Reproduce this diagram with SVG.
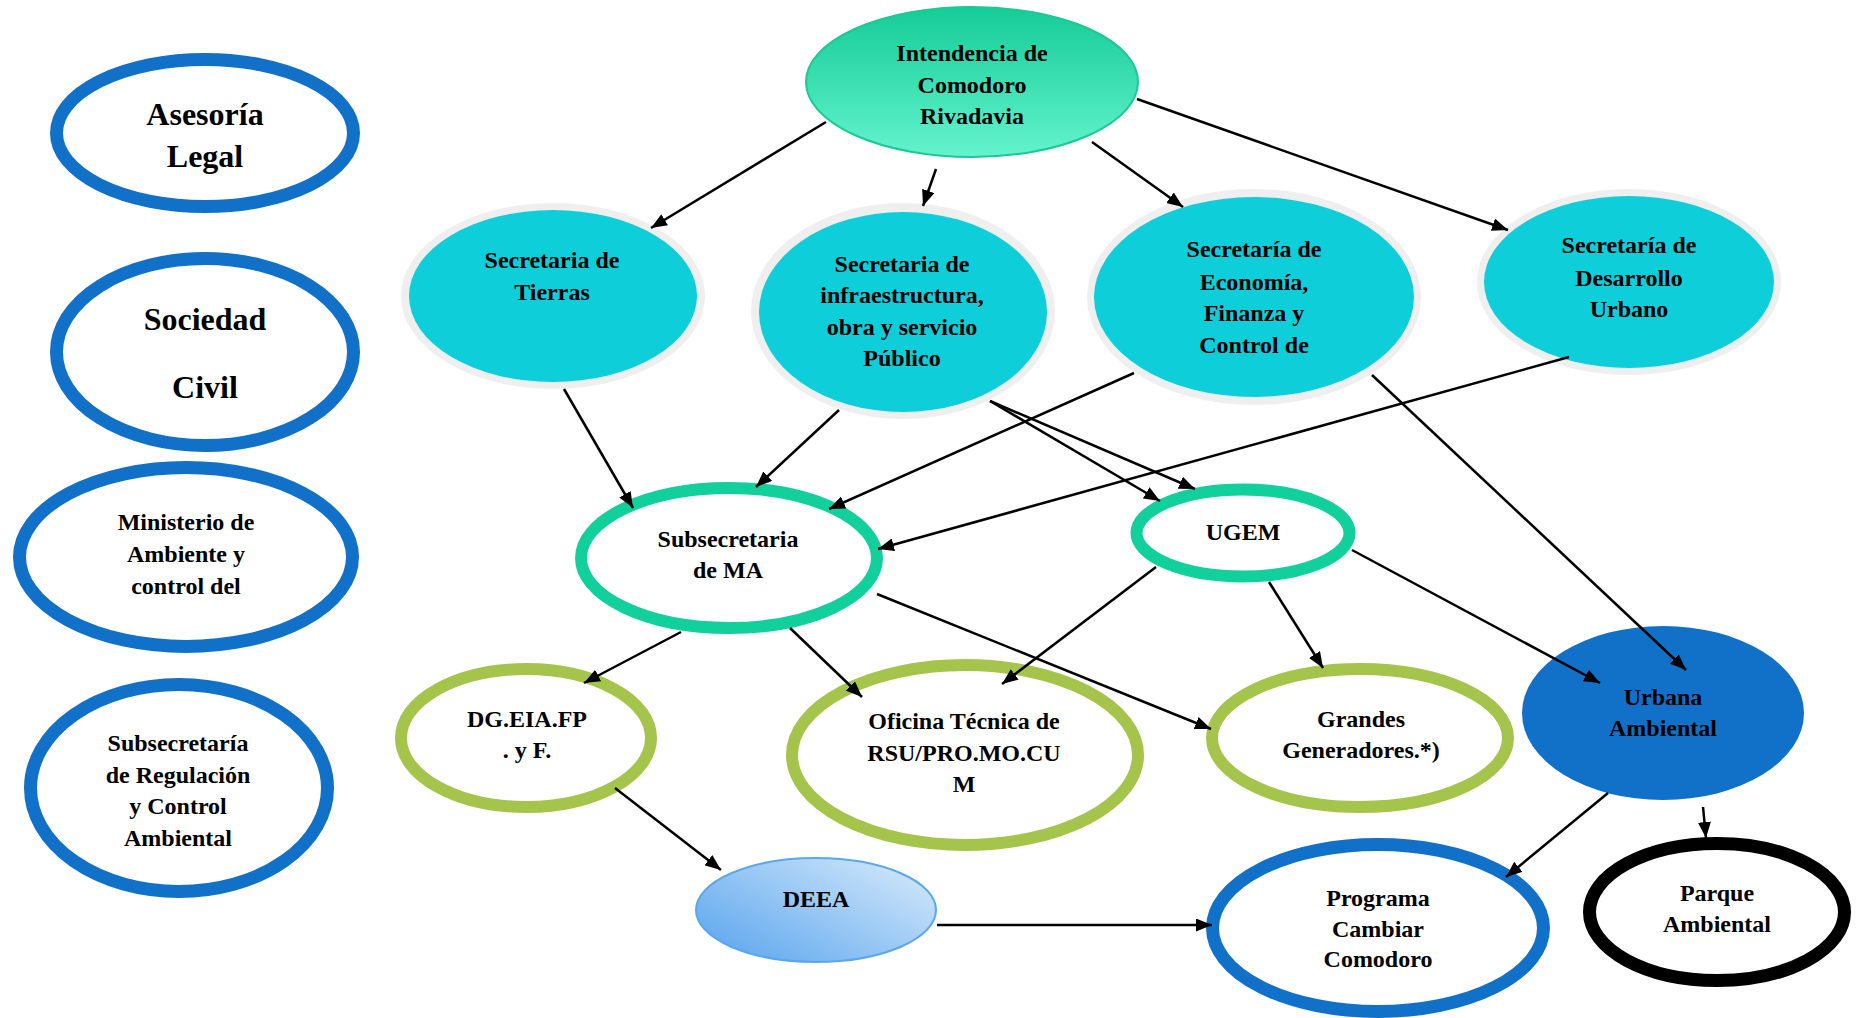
<svg xmlns="http://www.w3.org/2000/svg" width="1859" height="1018" viewBox="0 0 1859 1018">
<style>
text{font-family:"Liberation Serif","Times New Roman",serif;font-weight:bold;fill:#000;text-anchor:middle;font-size:24px}
.big{font-size:32px}
.ring-blue{fill:#fff;stroke:#1170C8;stroke-width:13}
.ring-green{fill:#fff;stroke:#12D09C;stroke-width:12}
.ring-olive{fill:#fff;stroke:#A5C44B;stroke-width:12}
.ring-black{fill:#fff;stroke:#000;stroke-width:13}
.halo{fill:#EFEFEF}
.cyan{fill:#0ECFD9}
.conn line{stroke:#000;stroke-width:2.5;marker-end:url(#arr)}
</style>
<defs>
<marker id="arr" markerUnits="userSpaceOnUse" markerWidth="16" markerHeight="13" refX="16" refY="6.5" orient="auto">
<path d="M0,0 L16,6.5 L0,13 z" fill="#000"/>
</marker>
<linearGradient id="gInt" x1="0" y1="0" x2="0" y2="1">
<stop offset="0" stop-color="#15CC97"/>
<stop offset="1" stop-color="#64F3CE"/>
</linearGradient>
<linearGradient id="gDeea" x1="0" y1="1" x2="1" y2="0.2">
<stop offset="0" stop-color="#55A2ED"/>
<stop offset="1" stop-color="#CFE6FA"/>
</linearGradient>
</defs>
<rect width="1859" height="1018" fill="#fff"/>

<g id="asesoria">
<ellipse class="ring-blue" cx="205" cy="133" rx="148.5" ry="73.5"/>
<text class="big" x="205" y="125">Asesoría</text>
<text class="big" x="205" y="167">Legal</text>
</g>
<g id="sociedad">
<ellipse class="ring-blue" cx="205" cy="352" rx="148.5" ry="93.5"/>
<text class="big" x="205" y="330">Sociedad</text>
<text class="big" x="205" y="398">Civil</text>
</g>
<g id="ministerio">
<ellipse class="ring-blue" cx="186" cy="557" rx="166.5" ry="89.5"/>
<text x="186" y="530">Ministerio de</text>
<text x="186" y="562">Ambiente y</text>
<text x="186" y="594">control del</text>
</g>
<g id="subsec-regulacion">
<ellipse class="ring-blue" cx="179" cy="788" rx="148.5" ry="103.5"/>
<text x="178" y="751">Subsecretaría</text>
<text x="178" y="783">de Regulación</text>
<text x="178" y="814">y Control</text>
<text x="178" y="846">Ambiental</text>
</g>

<g id="intendencia">
<ellipse cx="972" cy="82" rx="166" ry="75" fill="url(#gInt)" stroke="#1BC994" stroke-width="2"/>
<text x="972" y="61">Intendencia de</text>
<text x="972" y="93">Comodoro</text>
<text x="972" y="124">Rivadavia</text>
</g>

<g id="tierras">
<ellipse class="halo" cx="553" cy="296" rx="152" ry="93"/>
<ellipse class="cyan" cx="553" cy="296" rx="144" ry="86"/>
<text x="552" y="268">Secretaria de</text>
<text x="552" y="300">Tierras</text>
</g>
<g id="infraestructura">
<ellipse class="halo" cx="903" cy="311" rx="152" ry="108"/>
<ellipse class="cyan" cx="903" cy="312" rx="144" ry="100"/>
<text x="902" y="272">Secretaria de</text>
<text x="902" y="303">infraestructura,</text>
<text x="902" y="335">obra y servicio</text>
<text x="902" y="366">Público</text>
</g>
<g id="economia">
<ellipse class="halo" cx="1254" cy="297" rx="167" ry="108"/>
<ellipse class="cyan" cx="1254" cy="297" rx="160" ry="100"/>
<text x="1254" y="257">Secretaría de</text>
<text x="1254" y="290">Economía,</text>
<text x="1254" y="321">Finanza y</text>
<text x="1254" y="353">Control de</text>
</g>
<g id="desarrollo">
<ellipse class="halo" cx="1629" cy="282" rx="152" ry="93"/>
<ellipse class="cyan" cx="1629" cy="282" rx="145" ry="86"/>
<text x="1629" y="253">Secretaría de</text>
<text x="1629" y="286">Desarrollo</text>
<text x="1629" y="317">Urbano</text>
</g>

<g id="subsec-ma">
<ellipse class="ring-green" cx="729" cy="558" rx="148" ry="70"/>
<text x="728" y="547">Subsecretaria</text>
<text x="728" y="578">de MA</text>
</g>
<g id="ugem">
<ellipse class="ring-green" cx="1243" cy="533" rx="106.5" ry="43.5"/>
<text x="1243" y="540">UGEM</text>
</g>

<g id="dgeia">
<ellipse class="ring-olive" cx="526" cy="738" rx="125" ry="69"/>
<text x="527" y="727">DG.EIA.FP</text>
<text x="527" y="758">. y F.</text>
</g>
<g id="oficina">
<ellipse class="ring-olive" cx="965" cy="755" rx="173" ry="90"/>
<text x="964" y="729">Oficina Técnica de</text>
<text x="964" y="761">RSU/PRO.MO.CU</text>
<text x="964" y="792">M</text>
</g>
<g id="grandes">
<ellipse class="ring-olive" cx="1360" cy="738" rx="148" ry="69"/>
<text x="1361" y="727">Grandes</text>
<text x="1361" y="758">Generadores.*)</text>
</g>
<g id="urbana">
<ellipse cx="1663" cy="713" rx="141" ry="87" fill="#1170C8"/>
<text x="1663" y="705">Urbana</text>
<text x="1663" y="736">Ambiental</text>
</g>

<g id="deea">
<ellipse cx="816" cy="910" rx="120" ry="52" fill="url(#gDeea)" stroke="#5AA7EF" stroke-width="2"/>
<text x="816" y="907">DEEA</text>
</g>
<g id="programa">
<ellipse class="ring-blue" cx="1378" cy="928" rx="165.5" ry="83.5"/>
<text x="1378" y="906">Programa</text>
<text x="1378" y="937">Cambiar</text>
<text x="1378" y="967">Comodoro</text>
</g>
<g id="parque">
<ellipse class="ring-black" cx="1717" cy="912" rx="127.5" ry="68.5"/>
<text x="1717" y="901">Parque</text>
<text x="1717" y="932">Ambiental</text>
</g>

<g id="connectors" class="conn">
<line x1="826" y1="122" x2="651" y2="228"/>
<line x1="936" y1="169" x2="923" y2="206"/>
<line x1="1092" y1="142" x2="1183" y2="207"/>
<line x1="1137" y1="99" x2="1508" y2="230"/>
<line x1="564" y1="389" x2="633" y2="508"/>
<line x1="839" y1="410" x2="756" y2="487"/>
<line x1="1134" y1="373" x2="829" y2="509"/>
<line x1="1569" y1="357" x2="878" y2="549"/>
<line x1="990" y1="401" x2="1160" y2="501"/>
<line x1="990" y1="401" x2="1195" y2="489"/>
<line x1="1156" y1="567" x2="1002" y2="684"/>
<line x1="1269" y1="582" x2="1323" y2="668"/>
<line x1="1352" y1="550" x2="1600" y2="683"/>
<line x1="1372" y1="375" x2="1686" y2="670"/>
<line x1="681" y1="632" x2="584" y2="683"/>
<line x1="790" y1="628" x2="862" y2="697"/>
<line x1="877" y1="594" x2="1211" y2="729"/>
<line x1="615" y1="788" x2="721" y2="870"/>
<line x1="937" y1="925" x2="1212" y2="925"/>
<line x1="1608" y1="793" x2="1506" y2="877"/>
<line x1="1703" y1="807" x2="1706" y2="838"/>
</g>
</svg>
